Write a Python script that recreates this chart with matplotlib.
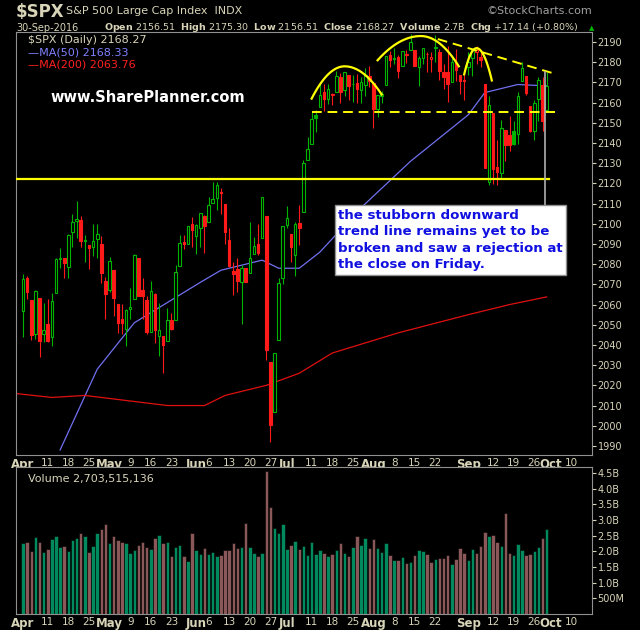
import matplotlib
matplotlib.use('Agg')
import matplotlib.pyplot as plt
import numpy as np

# S&P 500 daily, 1-Apr-2016 .. 30-Sep-2016
closes = [2072.78,2066.13,2045.17,2066.66,2041.91,2047.60,2041.99,2061.72,2082.42,2082.78,2080.73,2094.34,2100.80,2102.40,2091.48,2091.58,2087.79,2091.70,2095.15,2075.81,2065.30,
          2081.43,2063.37,2051.12,2050.63,2057.14,2058.69,2084.39,2064.46,2064.11,2046.61,2066.66,2047.21,2047.63,2040.04,2052.32,2048.04,2076.06,2090.54,2090.10,2099.06,2096.95,
          2099.33,2105.26,2099.13,2109.41,2112.13,2119.12,2115.48,2096.07,2079.06,2075.32,2071.50,2077.99,2071.22,2083.25,2088.90,2085.45,2113.32,2037.41,2000.54,2036.09,2070.77,2098.86,
          2102.95,2088.55,2099.73,2097.90,2129.90,2137.16,2152.14,2152.43,2163.75,2161.74,2166.89,2163.78,2173.02,2165.17,2175.03,2168.48,2169.18,2166.58,2170.06,2173.60,
          2170.84,2157.03,2163.79,2164.25,2182.87,2180.89,2181.74,2175.49,2185.79,2184.05,2190.15,2178.15,2182.22,2187.02,2183.87,2182.64,2186.90,2175.44,2172.47,2169.04,2180.38,2176.12,2170.95,
          2170.86,2179.98,2186.48,2186.16,2181.30,2127.81,2159.04,2127.02,2125.77,2147.26,2139.16,2139.12,2139.76,2163.12,2177.18,2164.69,2146.10,2159.93,2171.37,2151.13,2168.27]
opens = [2056.6,2073.2,2062.5,2045.6,2063.4,2045.5,2050.2,2043.7,2065.9,2082.9,2083.0,2078.8,2096.0,2101.5,2102.1,2091.5,2089.4,2088.6,2092.3,2090.1,2071.8,
         2067.2,2077.2,2060.3,2052.9,2047.8,2057.6,2062.6,2083.3,2067.2,2062.5,2046.5,2065.0,2044.4,2044.2,2041.9,2052.2,2052.2,2078.9,2091.0,2090.1,2100.1,
         2093.9,2097.7,2104.1,2100.8,2110.2,2112.7,2115.7,2109.6,2091.8,2076.7,2077.6,2071.0,2078.0,2075.6,2085.2,2089.8,2092.8,2103.8,2031.5,2006.7,2042.7,2073.2,
         2099.3,2095.1,2084.4,2100.4,2106.0,2131.7,2139.5,2153.8,2157.9,2165.1,2162.0,2163.8,2165.2,2172.9,2166.5,2173.7,2169.0,2169.8,2166.1,2168.8,
         2173.1,2169.9,2156.8,2163.5,2168.8,2183.8,2182.2,2182.8,2178.0,2183.7,2186.1,2186.2,2177.8,2181.9,2184.2,2181.6,2187.8,2185.1,2175.1,2175.1,2170.2,2179.5,2173.6,
         2171.3,2177.5,2181.9,2185.2,2182.8,2169.1,2120.9,2155.0,2127.9,2125.4,2146.5,2144.0,2145.9,2144.6,2170.9,2173.3,2158.5,2146.0,2161.9,2168.9,2156.5]
highs = [2075.1,2074.0,2062.5,2067.3,2063.4,2060.6,2062.9,2065.6,2083.3,2087.8,2083.0,2095.0,2104.9,2111.1,2103.9,2094.3,2089.4,2099.9,2099.9,2094.0,2073.8,
         2083.4,2077.2,2060.3,2060.2,2057.7,2068.2,2084.9,2083.3,2073.0,2064.1,2071.9,2065.7,2060.6,2044.2,2058.4,2055.9,2079.7,2094.7,2094.7,2099.1,2103.5,
         2100.0,2105.3,2104.4,2113.4,2120.6,2120.5,2117.6,2109.6,2098.1,2081.1,2083.0,2079.6,2078.0,2100.8,2093.7,2099.7,2113.3,2103.8,2031.5,2036.1,2073.1,2098.9,
         2108.7,2095.1,2100.7,2109.1,2131.7,2143.2,2155.4,2156.5,2169.1,2169.1,2169.0,2164.6,2175.6,2174.6,2175.1,2173.7,2173.5,2174.0,2172.9,2177.1,
         2178.3,2170.2,2163.8,2166.0,2182.9,2185.4,2187.0,2183.5,2185.8,2186.3,2193.8,2186.3,2183.0,2187.0,2185.0,2185.2,2193.4,2186.7,2179.0,2187.9,2183.5,2186.6,2173.8,
         2173.6,2184.9,2186.6,2187.9,2184.9,2169.1,2163.3,2155.0,2141.3,2151.3,2146.5,2153.6,2150.8,2165.1,2180.0,2173.3,2158.5,2161.1,2172.7,2172.7,2175.3]
lows = [2043.9,2062.6,2042.6,2043.1,2033.8,2041.7,2041.7,2039.7,2065.9,2078.1,2073.0,2073.0,2088.5,2093.2,2088.5,2081.2,2077.5,2084.0,2082.9,2070.7,2053.1,
        2066.1,2054.4,2045.8,2045.3,2039.5,2053.1,2062.6,2064.5,2053.1,2045.5,2046.5,2040.8,2034.5,2025.9,2041.9,2047.3,2052.2,2078.9,2087.4,2090.0,2088.7,
        2085.1,2088.6,2085.4,2100.8,2110.2,2106.9,2104.9,2089.9,2078.5,2064.6,2066.0,2050.4,2071.2,2075.6,2085.0,2084.4,2092.8,2032.6,1991.7,2006.7,2042.7,2070.0,
        2097.9,2080.9,2074.0,2089.4,2106.0,2131.6,2139.5,2145.6,2157.9,2155.8,2159.1,2159.0,2165.2,2159.8,2163.2,2161.1,2160.2,2159.8,2159.7,2163.5,
        2168.0,2147.6,2152.8,2159.8,2168.8,2177.9,2179.0,2172.0,2178.0,2179.4,2186.1,2178.1,2168.5,2179.1,2175.1,2175.0,2179.9,2171.3,2166.7,2160.4,2170.2,2170.8,2164.4,
        2161.4,2173.6,2173.2,2179.1,2177.5,2127.8,2119.1,2119.9,2119.1,2122.4,2131.2,2135.9,2139.2,2139.6,2170.9,2164.0,2145.7,2141.6,2150.8,2145.8,2156.5]
volume_b = [2.25,2.3,2.0,2.47,2.3,1.97,2.07,2.4,2.5,2.13,2.17,2.0,2.35,2.43,2.57,2.5,1.98,2.17,2.57,2.7,2.88,
            2.27,2.5,2.37,2.3,2.25,1.95,2.05,2.2,2.3,2.13,2.07,2.43,2.53,2.27,2.3,1.85,2.13,2.2,1.85,1.7,2.6,
            2.05,1.92,2.1,1.92,1.98,1.85,1.88,2.05,2.05,2.25,2.1,2.13,2.9,2.13,1.95,1.85,1.95,4.55,3.4,2.73,2.57,2.88,
            2.07,2.2,2.33,2.07,2.17,1.88,2.3,1.92,2.05,1.95,1.85,1.92,2.03,2.25,1.95,1.85,2.15,2.5,2.2,2.43,
            2.1,2.4,2.1,1.98,2.25,1.88,1.72,1.72,1.82,1.62,1.65,1.88,2.05,2.02,1.92,1.65,1.75,1.78,1.8,1.88,1.58,1.75,2.1,
            1.95,1.72,2.07,1.95,2.17,2.63,2.5,2.53,2.3,2.17,3.22,1.95,1.88,2.23,2.05,1.88,1.9,2.0,2.13,2.43,2.7]

# moving averages (day index, value)
ma50_idx = [9, 18, 27, 35, 43, 48, 58, 62, 67, 72, 82, 94, 108, 112, 120, 127]
ma50_val = [1988, 2028, 2051, 2061, 2071, 2077, 2082, 2078, 2078, 2086, 2108, 2131, 2154, 2165, 2169, 2168.3]
ma200_idx = [-2, 7, 15, 35, 44, 49, 59, 67, 75, 91, 108, 118, 127]
ma200_val = [2016, 2014, 2015, 2010, 2010, 2015, 2020, 2026, 2036, 2046, 2055, 2060, 2063.8]

tick_idx = [0, 6, 11, 16, 21, 26, 31, 36, 42, 45, 50, 55, 60, 64, 70, 75, 80, 85, 90, 95, 100, 108, 114, 119, 124, 128, 133]
tick_lbl = ['Apr', '11', '18', '25', 'May', '9', '16', '23', 'Jun', '6', '13', '20', '27', 'Jul', '11', '18', '25',
            'Aug', '8', '15', '22', 'Sep', '12', '19', '26', 'Oct', '10']
months = {'Apr', 'May', 'Jun', 'Jul', 'Aug', 'Sep', 'Oct'}

BG = 'black'
FG = '#d8d4b8'
GREEN = '#00b400'
RED = '#ff1a1a'

fig = plt.figure(figsize=(6.4, 6.3), dpi=100, facecolor=BG)
W, H = 640, 630
ax = fig.add_axes([16 / W, 1 - 455 / H, 576 / W, 423 / H], facecolor=BG)
axv = fig.add_axes([16 / W, 1 - 614 / H, 576 / W, 147 / H], facecolor=BG)

n = len(closes)
x = np.arange(n)
xlim = (-1.7, 138.0)

for i in range(n):
    o, h, l, c = opens[i], highs[i], lows[i], closes[i]
    up = i == 0 or c >= closes[i - 1]
    col = GREEN if up else RED
    ax.vlines(i, l, h, color=col, lw=0.8, zorder=3)
    bot, top = min(o, c), max(o, c)
    if top - bot < 0.4:
        top = bot + 0.4
    ax.bar(i, top - bot, bottom=bot, width=0.62,
           facecolor=col if c < o else BG, edgecolor=col, lw=0.8, zorder=4)

ax.plot(ma50_idx, ma50_val, color='#7070f0', lw=0.9, zorder=2)
ax.plot(ma200_idx, ma200_val, color='#e01010', lw=0.9, zorder=2)

# annotations
ax.plot([-2, 127.5], [2122, 2122], color='yellow', lw=1.6, zorder=5)
ax.plot([70, 129], [2155.5, 2155.5], color='yellow', lw=1.4, ls=(0, (5, 3)), zorder=5)
ax.plot([100.6, 129.5], [2191.5, 2174], color='yellow', lw=1.4, ls=(0, (5, 3)), zorder=5)
for a, pk, b, ya, yp, yb in [(70, 78, 87, 2162, 2178, 2164), (86, 96.5, 105.7, 2181, 2193, 2178),
                             (107, 110, 113.7, 2174, 2187, 2171)]:
    t = np.linspace(a, b, 40)
    left = t <= pk
    y = np.where(left, yp - (yp - ya) * ((t - pk) / (a - pk)) ** 2, yp - (yp - yb) * ((t - pk) / (b - pk)) ** 2)
    ax.plot(t, y, color='yellow', lw=1.6, zorder=5)

ax.plot([126.5, 126.5], [2107, 2175], color='#b0b0b0', lw=1.2, zorder=6)
ax.text(76.5, 2107.5, 'the stubborn downward\ntrend line remains yet to be\nbroken and saw a rejection at\nthe close on Friday.',
        color='#1010e0', fontsize=9.6, fontweight='bold', va='top', ha='left', linespacing=1.35, zorder=7,
        bbox=dict(facecolor='white', edgecolor='#909090', boxstyle='square,pad=0.25'))

ax.text(0.06, 0.835, 'www.SharePlanner.com', transform=ax.transAxes, color='white',
        fontsize=10.5, fontweight='bold')

ax.set_xlim(*xlim)
ax.set_ylim(1985.5, 2195)
ax.set_yticks(range(1990, 2191, 10))

# volume
vcols = []
for i in range(n):
    up = i == 0 or closes[i] >= closes[i - 1]
    vcols.append('#008a5e' if up else '#8a5858')
axv.bar(x, volume_b, width=0.85, color=vcols, edgecolor='black', lw=0.4)
axv.set_xlim(*xlim)
axv.set_ylim(0, 4.69)
axv.set_yticks([0.5, 1, 1.5, 2, 2.5, 3, 3.5, 4, 4.5])
axv.set_yticklabels(['500M', '1.0B', '1.5B', '2.0B', '2.5B', '3.0B', '3.5B', '4.0B', '4.5B'])

for a in (ax, axv):
    a.yaxis.tick_right()
    a.tick_params(axis='y', colors=FG, labelsize=7, length=3, pad=1, direction='out')
    a.tick_params(axis='x', colors=FG, length=0, pad=2)
    a.set_xticks(tick_idx)
    a.set_xticklabels(tick_lbl)
    for lab in a.get_xticklabels():
        if lab.get_text() in months:
            lab.set_fontweight('bold')
            lab.set_fontsize(8.5)
        else:
            lab.set_fontsize(7.5)
    for s in a.spines.values():
        s.set_color('#909090')
        s.set_linewidth(0.8)

# legends
ax.text(0.02, 0.975, '$SPX (Daily) 2168.27', transform=ax.transAxes, color=FG, fontsize=8)
ax.text(0.02, 0.945, '—MA(50) 2168.33', transform=ax.transAxes, color='#8080ff', fontsize=8)
ax.text(0.02, 0.915, '—MA(200) 2063.76', transform=ax.transAxes, color='#ff2020', fontsize=8)
axv.text(0.02, 0.9, 'Volume 2,703,515,136', transform=axv.transAxes, color=FG, fontsize=8)

# header
fig.text(16 / W, 1 - 12 / H, '$SPX', color=FG, fontsize=12, fontweight='bold', va='center')
fig.text(66 / W, 1 - 11 / H, 'S&P 500 Large Cap Index  INDX', color=FG, fontsize=8, va='center')
fig.text(592 / W, 1 - 11 / H, '©StockCharts.com', color='#a0a0a0', fontsize=8, va='center', ha='right')
fig.text(16 / W, 1 - 28 / H, '30-Sep-2016', color=FG, fontsize=7, va='center')
fig.text(104 / W, 1 - 28 / H, r'$\bf{Open}$ 2156.51  $\bf{High}$ 2175.30  $\bf{Low}$ 2156.51  $\bf{Close}$ 2168.27  '
         r'$\bf{Volume}$ 2.7B  $\bf{Chg}$ +17.14 (+0.80%)', color=FG, fontsize=6.8, va='center')
fig.text(589 / W, 1 - 28 / H, '▲', color=GREEN, fontsize=5, va='center')

fig.savefig('out.png', dpi=100, facecolor=BG)
